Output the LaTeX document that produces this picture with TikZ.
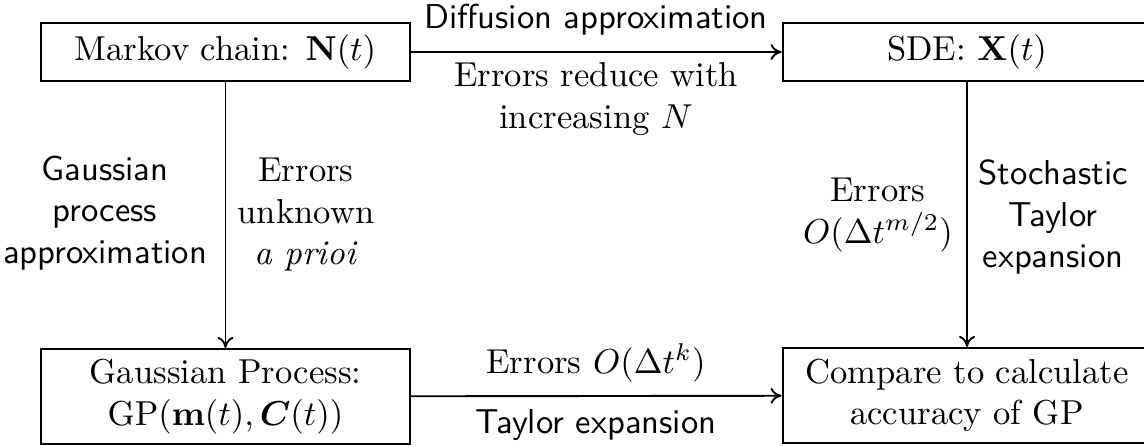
\documentclass[tikz,border=0pt]{standalone}
\usepackage{amsmath}
\usetikzlibrary{arrows.meta}
\begin{document}
\begin{tikzpicture}[x=0.289pt,y=-0.289pt,
  box/.style={draw,line width=0.55pt,inner sep=0pt,align=center,minimum width=106.6pt},
  lab/.style={inner sep=0pt,align=center},
  slab/.style={inner sep=0pt,align=center,font=\sffamily},
  conn/.style={line width=0.55pt,-{To[length=3.2pt,width=4.6pt]}}]
\clip (0,0) rectangle (1144,445);
\useasboundingbox (0,0) rectangle (1144,445);
\node[box,minimum height=16.76pt] (mc) at (225.5,52) {Markov chain: $\mathbf{N}(t)$};
\node[box,minimum height=16.76pt] (sde) at (967,52) {SDE: $\mathbf{X}(t)$};
\node[box,minimum height=27.5pt] (gp) at (225.5,396.5) {Gaussian Process:\\ $\mathrm{GP}(\mathbf{m}(t),\boldsymbol{C}(t))$};
\node[box,minimum height=27.5pt] (cmp) at (967,395.5) {Compare to calculate\\ accuracy of GP};
\draw[conn] (mc) -- (sde);
\draw[conn] (mc) -- (gp);
\draw[conn] (sde) -- (cmp);
\draw[conn] (gp) -- (cmp);
\node[slab] (l1) at (596,20) {Diffusion approximation};
\node[lab] (l2) at (596,99) {Errors reduce with\\ increasing $N$};
\node[slab] (l3) at (105,213) {Gaussian\\ process\\ approximation};
\node[lab] (l4) at (306,215) {Errors\\ unknown\\ \textit{a prioi}};
\node[lab] (l5) at (878,215) {Errors\\ $O(\Delta t^{m/2})$};
\node[slab] (l6) at (1053,217) {Stochastic\\ Taylor\\ expansion};
\node[lab] (l7) at (596,363) {Errors $O(\Delta t^k)$};
\node[slab] (l8) at (596,425) {Taylor expansion};
\end{tikzpicture}
\end{document}
